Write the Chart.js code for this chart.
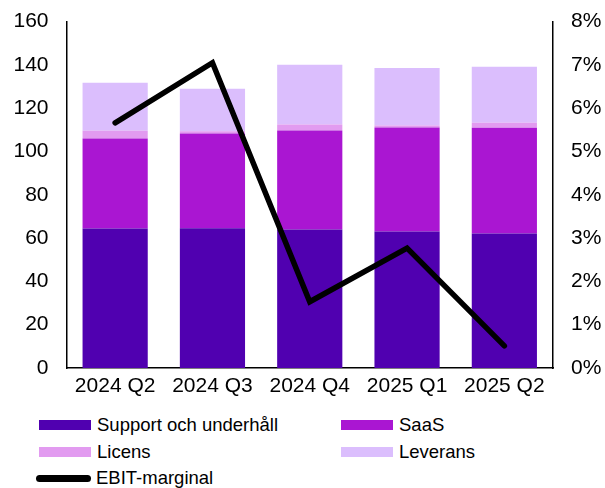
<!DOCTYPE html>
<html>
<head>
<meta charset="utf-8">
<script src="https://cdn.jsdelivr.net/npm/chart.js@4"></script>
<style>
  body { margin: 0; background: #fff; font-family: "Liberation Sans", Arial, sans-serif; overflow: hidden; }
  #wrap { position: relative; width: 605px; height: 409px; margin-top: -9px; }
  #legend { position: relative; width: 605px; height: 88px; font-size: 18.5px; color: #000; }
  .item { position: absolute; display: flex; align-items: center; height: 22px; }
  .box { width: 52px; height: 10px; margin-right: 6px; }
  .line { width: 55px; height: 7px; border-radius: 4px; background: #000; margin-left: -3px; margin-right: 5px; }
</style>
</head>
<body>
<div id="wrap"><canvas id="chart"></canvas></div>
<div id="legend"></div>
<script>
const quarters = ['2024 Q2', '2024 Q3', '2024 Q4', '2025 Q1', '2025 Q2'];
const support = [64.4, 64.5, 64.0, 63.0, 62.1];
const saas = [41.6, 43.8, 45.7, 48.1, 48.9];
const licens = [3.6, 1.0, 2.8, 0.9, 2.3];
const leverans = [22.2, 19.7, 27.6, 26.6, 25.9];
const ebitMargin = [5.66, 7.05, 1.53, 2.77, 0.51];

const colors = {
    support: '#5000B0',
    saas: '#AA16D2',
    licens: '#E29BF0',
    leverans: '#DBBEFD'
};

const tickFont = { family: 'Liberation Sans', size: 21 };

function barSet(label, data, color) {
    return {
        type: 'bar',
        label: label,
        data: data,
        backgroundColor: color,
        borderWidth: 0,
        yAxisID: 'y',
        order: 2
    };
}

const ctx = document.getElementById('chart').getContext('2d');
const chart = new Chart(ctx, {
    data: {
        labels: quarters,
        datasets: [
            barSet('Support och underhåll', support, colors.support),
            barSet('SaaS', saas, colors.saas),
            barSet('Licens', licens, colors.licens),
            barSet('Leverans', leverans, colors.leverans),
            {
                type: 'line',
                label: 'EBIT-marginal',
                data: ebitMargin,
                borderColor: '#000',
                borderWidth: 5.5,
                borderCapStyle: 'round',
                borderJoinStyle: 'miter',
                pointRadius: 0,
                tension: 0,
                yAxisID: 'y1',
                order: 0
            }
        ]
    },
    options: {
        responsive: true,
        maintainAspectRatio: false,
        animation: false,
        datasets: { bar: { categoryPercentage: 1, barPercentage: 0.67 } },
        layout: { padding: { top: 14, left: 0, right: 0, bottom: 0 } },
        plugins: { legend: { display: false }, tooltip: { enabled: false } },
        scales: {
            x: {
                stacked: true,
                grid: { display: false, drawTicks: false },
                border: { display: true, color: '#000', width: 1.5 },
                ticks: { color: '#000', font: tickFont, padding: 6, maxRotation: 0 },
                afterFit: function (s) { s.height = 32; }
            },
            y: {
                stacked: true,
                position: 'left',
                min: 0,
                max: 160,
                grid: { display: false, drawTicks: false },
                border: { display: true, color: '#000', width: 1.5 },
                ticks: { stepSize: 20, color: '#000', font: tickFont, padding: 18 },
                afterFit: function (s) { s.width = 66.5; }
            },
            y1: {
                position: 'right',
                min: 0,
                max: 8,
                grid: { display: false, drawTicks: false },
                border: { display: true, color: '#000', width: 1.5 },
                ticks: {
                    stepSize: 1,
                    color: '#000',
                    font: tickFont,
                    padding: 18,
                    callback: function (v) { return v + '%'; }
                },
                afterFit: function (s) { s.width = 52; }
            }
        }
    }
});

// legend in two columns, like the original
const legendPos = [
    { left: 39, top: 14 },
    { left: 341, top: 14 },
    { left: 39, top: 41 },
    { left: 341, top: 41 },
    { left: 39, top: 67 }
];
const legend = document.getElementById('legend');
chart.data.datasets.forEach(function (ds, i) {
    const item = document.createElement('div');
    item.className = 'item';
    item.style.left = legendPos[i].left + 'px';
    item.style.top = legendPos[i].top + 'px';
    const mark = document.createElement('span');
    if (ds.type === 'line') {
        mark.className = 'line';
    } else {
        mark.className = 'box';
        mark.style.background = ds.backgroundColor;
    }
    const text = document.createElement('span');
    text.textContent = ds.label;
    item.appendChild(mark);
    item.appendChild(text);
    legend.appendChild(item);
});
</script>
</body>
</html>
